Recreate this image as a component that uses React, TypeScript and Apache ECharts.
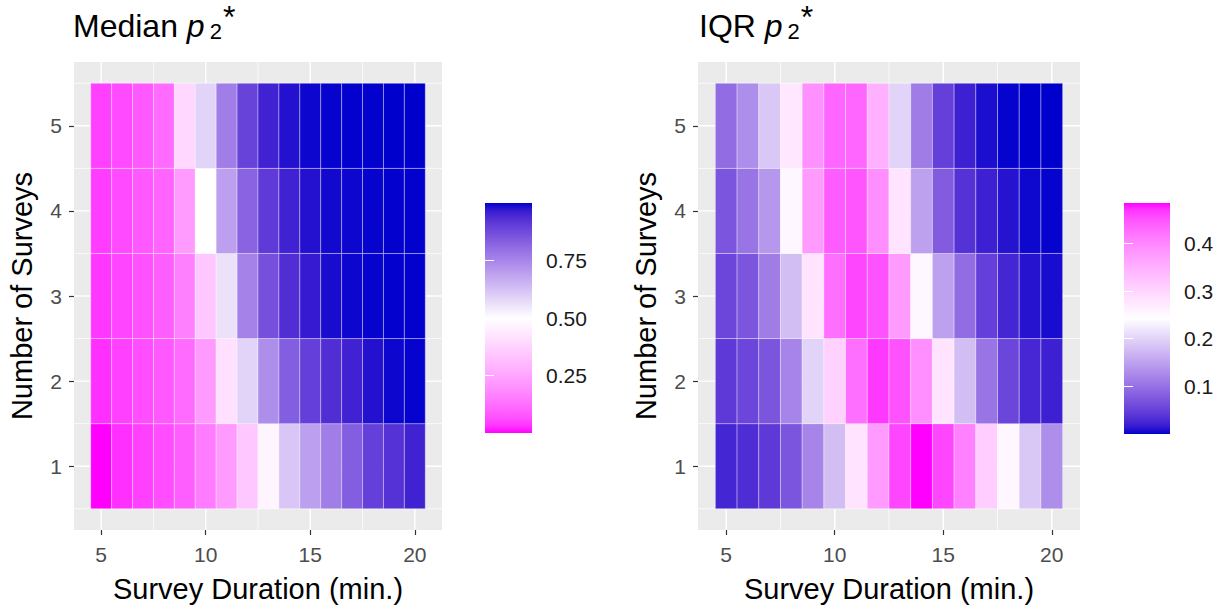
import React, { useEffect, useRef } from 'react';
import * as echarts from 'echarts';

const FONT = '"Liberation Sans", Arial, Helvetica, sans-serif';

// Survey duration (min.) — x categories, and number of surveys — y categories
const DURATIONS = [5, 6, 7, 8, 9, 10, 11, 12, 13, 14, 15, 16, 17, 18, 19, 20];
const SURVEYS = [1, 2, 3, 4, 5];

// Median p2* by number of surveys (rows) and duration (columns)
const MEDIAN_S1 = [0.000, 0.028, 0.046, 0.063, 0.090, 0.149, 0.221, 0.342, 0.471, 0.615, 0.695, 0.768, 0.834, 0.901, 0.926, 0.955];
const MEDIAN_S2 = [0.028, 0.046, 0.063, 0.080, 0.113, 0.221, 0.414, 0.587, 0.732, 0.834, 0.901, 0.934, 0.955, 0.979, 0.993, 0.996];
const MEDIAN_S3 = [0.034, 0.052, 0.069, 0.090, 0.161, 0.342, 0.559, 0.756, 0.864, 0.934, 0.968, 0.985, 0.993, 0.996, 0.999, 0.999];
const MEDIAN_S4 = [0.040, 0.058, 0.080, 0.102, 0.221, 0.500, 0.695, 0.823, 0.910, 0.955, 0.979, 0.989, 0.993, 0.996, 0.999, 0.999];
const MEDIAN_S5 = [0.046, 0.058, 0.080, 0.113, 0.385, 0.587, 0.768, 0.892, 0.955, 0.979, 0.993, 0.996, 0.999, 0.999, 1.000, 1.000];

// IQR p2*
const IQR_S1 = [0.025, 0.031, 0.043, 0.071, 0.120, 0.179, 0.282, 0.378, 0.459, 0.485, 0.459, 0.406, 0.311, 0.253, 0.188, 0.130];
const IQR_S2 = [0.043, 0.056, 0.071, 0.120, 0.200, 0.306, 0.425, 0.468, 0.451, 0.390, 0.282, 0.179, 0.103, 0.056, 0.026, 0.020];
const IQR_S3 = [0.056, 0.071, 0.112, 0.179, 0.282, 0.425, 0.459, 0.451, 0.378, 0.253, 0.149, 0.095, 0.049, 0.025, 0.011, 0.007];
const IQR_S4 = [0.071, 0.103, 0.139, 0.253, 0.378, 0.443, 0.448, 0.390, 0.282, 0.149, 0.078, 0.036, 0.020, 0.011, 0.004, 0.002];
const IQR_S5 = [0.095, 0.130, 0.188, 0.274, 0.389, 0.434, 0.434, 0.350, 0.200, 0.112, 0.049, 0.020, 0.008, 0.002, 0.000, 0.000];

const MEDIAN_ROWS = [MEDIAN_S1, MEDIAN_S2, MEDIAN_S3, MEDIAN_S4, MEDIAN_S5];
const IQR_ROWS = [IQR_S1, IQR_S2, IQR_S3, IQR_S4, IQR_S5];

// axis breaks
const X_BREAKS = [5, 10, 15, 20];
const X_MINOR = [7.5, 12.5, 17.5];
const Y_BREAKS = [1, 2, 3, 4, 5];
const Y_MINOR = [0.5, 1.5, 2.5, 3.5, 4.5, 5.5];
const MEDIAN_LEGEND_BREAKS = [0.25, 0.5, 0.75];
const IQR_LEGEND_BREAKS = [0.1, 0.2, 0.3, 0.4];

const X_LIMITS = [3.7, 21.3];
const Y_LIMITS = [0.25, 5.75];

const MAGENTA = '#FF00FF';
const WHITE = '#FFFFFF';
const BLUE = '#0000CD';

// ---- Lab colour interpolation (like ggplot's gradient scales) ----
const WP = [0.95047, 1.0, 1.08883];
function toLin(c: number) {
  const v = c / 255;
  return v <= 0.04045 ? v / 12.92 : Math.pow((v + 0.055) / 1.055, 2.4);
}
function fromLin(v: number) {
  const c = v <= 0.0031308 ? 12.92 * v : 1.055 * Math.pow(v, 1 / 2.4) - 0.055;
  return Math.round(Math.max(0, Math.min(1, c)) * 255);
}
function hexToLab(hex: string) {
  const r = toLin(parseInt(hex.slice(1, 3), 16));
  const g = toLin(parseInt(hex.slice(3, 5), 16));
  const b = toLin(parseInt(hex.slice(5, 7), 16));
  const X = (0.4124 * r + 0.3576 * g + 0.1805 * b) / WP[0];
  const Y = (0.2126 * r + 0.7152 * g + 0.0722 * b) / WP[1];
  const Z = (0.0193 * r + 0.1192 * g + 0.9505 * b) / WP[2];
  const f = (t: number) => (t > 0.008856 ? Math.cbrt(t) : 7.787 * t + 16 / 116);
  const fx = f(X), fy = f(Y), fz = f(Z);
  return [116 * fy - 16, 500 * (fx - fy), 200 * (fy - fz)];
}
function labToHex(lab: number[]) {
  const fy = (lab[0] + 16) / 116;
  const fx = fy + lab[1] / 500;
  const fz = fy - lab[2] / 200;
  const finv = (t: number) => (t * t * t > 0.008856 ? t * t * t : (t - 16 / 116) / 7.787);
  const X = finv(fx) * WP[0], Y = finv(fy) * WP[1], Z = finv(fz) * WP[2];
  const r = 3.2406 * X - 1.5372 * Y - 0.4986 * Z;
  const g = -0.9689 * X + 1.8758 * Y + 0.0415 * Z;
  const b = 0.0557 * X - 0.204 * Y + 1.057 * Z;
  const h = (n: number) => fromLin(n).toString(16).padStart(2, '0');
  return '#' + h(r) + h(g) + h(b);
}
function labPalette(colors: string[], perSegment: number) {
  const labs = colors.map(hexToLab);
  const out: string[] = [];
  for (let s = 0; s < labs.length - 1; s++) {
    for (let i = 0; i < perSegment; i++) {
      const t = i / perSegment;
      out.push(labToHex(labs[s].map((v, k) => v + (labs[s + 1][k] - v) * t)));
    }
  }
  out.push(colors[colors.length - 1]);
  return out;
}

function buildTiles(rows: number[][]) {
  const out: number[][] = [];
  rows.forEach((row, i) => {
    row.forEach((v, j) => {
      out.push([DURATIONS[j], SURVEYS[i], v]);
    });
  });
  return out;
}

function buildGridLines() {
  const out: number[][] = [];
  X_BREAKS.forEach((v) => out.push([v, 0, 1]));
  X_MINOR.forEach((v) => out.push([v, 0, 0]));
  Y_BREAKS.forEach((v) => out.push([v, 1, 1]));
  Y_MINOR.forEach((v) => out.push([v, 1, 0]));
  return out;
}

function extent(rows: number[][]) {
  const all = rows.flat();
  return [Math.min(...all), Math.max(...all)];
}

const tileRender = (params: any, api: any) => {
  const x = api.value(0);
  const y = api.value(1);
  const p0 = api.coord([x - 0.5, y + 0.5]);
  const p1 = api.coord([x + 0.5, y - 0.5]);
  return {
    type: 'rect',
    shape: { x: p0[0], y: p0[1], width: p1[0] - p0[0], height: p1[1] - p0[1] },
    style: { fill: api.visual('color'), stroke: 'rgba(255,255,255,0.5)', lineWidth: 0.7 },
  };
};

const gridLineRender = (params: any, api: any) => {
  const cs = params.coordSys;
  const v = api.value(0);
  const orient = api.value(1);
  const major = api.value(2) === 1;
  const lw = major ? 1.4 : 0.7;
  if (orient === 0) {
    const px = api.coord([v, Y_LIMITS[0]])[0];
    return {
      type: 'line',
      shape: { x1: px, y1: cs.y, x2: px, y2: cs.y + cs.height },
      style: { stroke: '#FFFFFF', lineWidth: lw },
    };
  }
  const py = api.coord([X_LIMITS[0], v])[1];
  return {
    type: 'line',
    shape: { x1: cs.x, y1: py, x2: cs.x + cs.width, y2: py },
    style: { stroke: '#FFFFFF', lineWidth: lw },
  };
};

const makeBarRender = (palette: string[]) => (params: any, api: any) => {
  const cs = params.coordSys;
  return {
    type: 'rect',
    shape: { x: cs.x, y: cs.y, width: cs.width, height: cs.height },
    style: {
      fill: new echarts.graphic.LinearGradient(
        0, 1, 0, 0,
        palette.map((c, i) => ({ offset: i / (palette.length - 1), color: c }))
      ),
    },
  };
};

const tok = { fontFamily: FONT, color: '#000', fontWeight: 'normal', verticalAlign: 'bottom' };
const RICH = {
  a: { ...tok, fontSize: 32 },
  p: { ...tok, fontSize: 32, fontStyle: 'italic' },
  s: { ...tok, fontSize: 22, padding: [0, 0, 0, 5] },
  t: { ...tok, fontSize: 32, padding: [0, 0, 9, 1] },
};

export default function App() {
  const ref = useRef<HTMLDivElement>(null);

  useEffect(() => {
    if (!ref.current) return;
    const chart = echarts.init(ref.current, undefined, { renderer: 'svg' });
    const [medMin, medMax] = extent(MEDIAN_ROWS);
    const [iqrMin, iqrMax] = extent(IQR_ROWS);
    const gridLines = buildGridLines();
    const medPalette = labPalette([MAGENTA, WHITE, BLUE], 16);
    const iqrPalette = labPalette([BLUE, WHITE, MAGENTA], 16);

    const tickStyle = { color: '#333333', width: 1.2 };
    const tickLabel = { fontSize: 21, color: '#4D4D4D', fontFamily: FONT };
    const nameStyle = { fontSize: 29, color: '#000', fontFamily: FONT };

    const mainX = (gridIndex: number) => ({
      gridIndex,
      type: 'value',
      min: X_LIMITS[0],
      max: X_LIMITS[1],
      axisLine: { show: false },
      splitLine: { show: false },
      axisTick: { show: true, length: 5, lineStyle: tickStyle, customValues: X_BREAKS },
      axisLabel: { ...tickLabel, margin: 14, customValues: X_BREAKS },
      name: 'Survey Duration (min.)',
      nameLocation: 'middle',
      nameGap: 44,
      nameTextStyle: nameStyle,
    });
    const mainY = (gridIndex: number) => ({
      gridIndex,
      type: 'value',
      min: Y_LIMITS[0],
      max: Y_LIMITS[1],
      axisLine: { show: false },
      splitLine: { show: false },
      axisTick: { show: true, length: 5, lineStyle: tickStyle, customValues: Y_BREAKS },
      axisLabel: { ...tickLabel, margin: 12, customValues: Y_BREAKS },
      name: 'Number of Surveys',
      nameLocation: 'middle',
      nameGap: 38,
      nameRotate: 90,
      nameTextStyle: nameStyle,
    });
    const legendY = (gridIndex: number, min: number, max: number, breaks: number[], digits: number, withLabels: boolean) => ({
      gridIndex,
      type: 'value',
      min,
      max,
      position: withLabels ? 'right' : 'left',
      z: 10,
      axisLine: { show: false },
      splitLine: { show: false },
      axisTick: { show: true, inside: true, length: 9, lineStyle: { color: '#FFFFFF', width: 1 }, customValues: breaks },
      axisLabel: {
        show: withLabels,
        customValues: breaks,
        margin: 14,
        fontSize: 21,
        color: '#1A1A1A',
        fontFamily: FONT,
        formatter: (v: number) => Number(v).toFixed(digits),
      },
    });
    const legendX = (gridIndex: number) => ({
      gridIndex,
      type: 'value',
      min: 0,
      max: 1,
      show: false,
    });

    chart.setOption({
      animation: false,
      backgroundColor: '#FFFFFF',
      textStyle: { fontFamily: FONT },
      title: [
        { left: 73, top: 1, padding: 0, text: '{a|Median }{p|p}{s|2}{t|*}', textStyle: { fontWeight: 'normal', rich: RICH } },
        { left: 699, top: 1, padding: 0, text: '{a|IQR }{p|p}{s|2}{t|*}', textStyle: { fontWeight: 'normal', rich: RICH } },
      ],
      grid: [
        { left: 74, top: 62, width: 368, height: 468, show: true, backgroundColor: '#EBEBEB', borderWidth: 0, containLabel: false, outerBoundsMode: 'none' },
        { left: 698, top: 62, width: 382, height: 468, show: true, backgroundColor: '#EBEBEB', borderWidth: 0, containLabel: false, outerBoundsMode: 'none' },
        { left: 485, top: 203, width: 47, height: 230, show: false, containLabel: false, outerBoundsMode: 'none' },
        { left: 1124, top: 203, width: 46, height: 231, show: false, containLabel: false, outerBoundsMode: 'none' },
      ],
      xAxis: [mainX(0), mainX(1), legendX(2), legendX(3)],
      yAxis: [
        mainY(0),
        mainY(1),
        legendY(2, medMin, medMax, MEDIAN_LEGEND_BREAKS, 2, true),
        legendY(2, medMin, medMax, MEDIAN_LEGEND_BREAKS, 2, false),
        legendY(3, iqrMin, iqrMax, IQR_LEGEND_BREAKS, 1, true),
        legendY(3, iqrMin, iqrMax, IQR_LEGEND_BREAKS, 1, false),
      ],
      visualMap: [
        { type: 'continuous', show: false, seriesIndex: 1, dimension: 2, min: medMin, max: medMax, inRange: { color: medPalette } },
        { type: 'continuous', show: false, seriesIndex: 3, dimension: 2, min: iqrMin, max: iqrMax, inRange: { color: iqrPalette } },
      ],
      series: [
        { type: 'custom', xAxisIndex: 0, yAxisIndex: 0, renderItem: gridLineRender, data: gridLines, z: 1, silent: true },
        { type: 'custom', xAxisIndex: 0, yAxisIndex: 0, renderItem: tileRender, data: buildTiles(MEDIAN_ROWS), z: 2, silent: true },
        { type: 'custom', xAxisIndex: 1, yAxisIndex: 1, renderItem: gridLineRender, data: gridLines, z: 1, silent: true },
        { type: 'custom', xAxisIndex: 1, yAxisIndex: 1, renderItem: tileRender, data: buildTiles(IQR_ROWS), z: 2, silent: true },
        { type: 'custom', xAxisIndex: 2, yAxisIndex: 2, renderItem: makeBarRender(medPalette), data: [[0.5, (medMin + medMax) / 2]], z: 1, silent: true, clip: false },
        { type: 'custom', xAxisIndex: 3, yAxisIndex: 4, renderItem: makeBarRender(iqrPalette), data: [[0.5, (iqrMin + iqrMax) / 2]], z: 1, silent: true, clip: false },
      ],
    });
    return () => chart.dispose();
  }, []);

  return (
    <div
      ref={ref}
      style={{ position: 'fixed', left: 0, top: 0, width: 1222, height: 609, background: '#fff' }}
    />
  );
}
